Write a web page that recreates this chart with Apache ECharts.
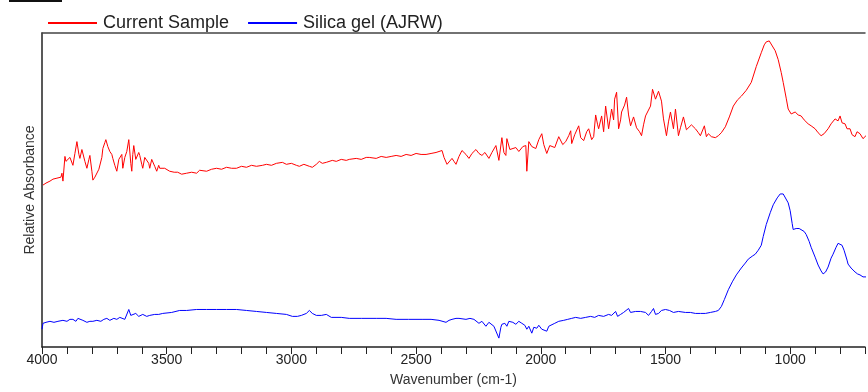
<!DOCTYPE html>
<html>
<head>
<meta charset="utf-8">
<script src="https://cdn.jsdelivr.net/npm/echarts@6/dist/echarts.min.js"></script>
<style>
  html, body { margin: 0; padding: 0; background: #fff; }
  #chart { width: 868px; height: 392px; }
</style>
</head>
<body>
<div id="chart"></div>
<script>
// spectra: wavenumber (cm-1) and relative absorbance
var sampleWn = [3996,3984,3976,3968,3956,3948,3940,3932,3924,3920,3916,3908,3904,3900,3896,3888,3880,3876,3868,3860,
  3852,3848,3840,3836,3828,3820,3812,3808,3800,3796,3788,3780,3772,3768,3760,3756,3748,3744,3736,3728,
  3720,3716,3708,3700,3692,3688,3680,3676,3668,3660,3652,3644,3640,3636,3632,3624,3620,3612,3608,3600,
  3596,3588,3580,3572,3568,3560,3556,3548,3540,3532,3528,3520,3508,3500,3488,3470,3456,3440,3420,3400,
  3380,3368,3340,3320,3300,3280,3260,3240,3220,3200,3180,3160,3140,3116,3100,3080,3060,3036,3020,3000,
  2980,2968,2950,2928,2916,2900,2888,2876,2860,2836,2820,2800,2780,2768,2740,2720,2700,2688,2660,2640,
  2620,2600,2580,2560,2540,2520,2500,2480,2460,2440,2420,2396,2388,2376,2368,2356,2348,2340,2328,2316,
  2300,2288,2276,2260,2248,2236,2224,2208,2196,2180,2168,2156,2148,2140,2136,2124,2116,2100,2088,2072,
  2060,2056,2048,2036,2020,2008,1996,1988,1976,1964,1956,1944,1928,1912,1900,1888,1880,1876,1864,1848,
  1840,1828,1816,1808,1796,1788,1780,1772,1768,1756,1748,1740,1728,1716,1708,1704,1696,1688,1680,1676,
  1664,1656,1648,1640,1628,1616,1604,1596,1588,1580,1568,1560,1552,1540,1528,1516,1508,1496,1488,1480,
  1468,1460,1448,1440,1428,1416,1408,1396,1380,1368,1360,1344,1336,1328,1316,1300,1288,1276,1260,1244,
  1228,1212,1196,1176,1156,1136,1116,1104,1096,1084,1076,1060,1048,1036,1028,1016,1008,996,988,980,
  968,956,944,928,916,900,888,876,864,848,836,820,808,800,792,780,772,760,752,740,
  732,720,708,696];
var sampleAbs = [1.64,1.66,1.65,1.68,1.70,1.69,1.71,1.73,1.72,1.76,1.68,1.93,1.88,1.90,1.86,1.92,1.94,1.84,1.96,2.08,
  1.95,1.91,2.00,1.98,1.88,1.81,1.90,1.94,1.78,1.69,1.72,1.74,1.80,1.81,1.92,2.01,2.07,2.10,2.03,1.98,
  1.95,1.91,1.84,1.78,1.90,1.88,1.95,1.81,1.92,1.98,2.10,1.86,1.78,1.95,2.04,1.90,1.88,1.97,1.94,1.85,
  1.81,1.92,1.94,1.86,1.81,1.90,1.88,1.83,1.78,1.84,1.81,1.80,1.81,1.79,1.78,1.77,1.77,1.75,1.76,1.77,
  1.76,1.79,1.78,1.80,1.81,1.80,1.82,1.81,1.81,1.83,1.82,1.84,1.83,1.84,1.85,1.84,1.86,1.87,1.85,1.86,
  1.84,1.83,1.85,1.83,1.82,1.85,1.88,1.86,1.87,1.89,1.88,1.90,1.89,1.90,1.91,1.90,1.92,1.92,1.91,1.93,
  1.92,1.93,1.94,1.93,1.95,1.94,1.96,1.95,1.95,1.96,1.97,1.99,1.92,1.85,1.87,1.91,1.88,1.85,1.93,1.99,
  1.95,1.91,1.96,2.00,1.96,1.94,1.97,1.91,1.97,2.04,1.89,2.12,1.97,1.94,2.11,2.00,1.98,2.02,1.98,2.03,
  2.04,1.78,2.08,2.03,2.01,2.10,2.16,2.05,1.96,2.04,2.06,2.02,2.13,2.05,2.08,2.14,2.19,2.06,2.15,2.24,
  2.12,2.09,2.18,2.21,2.10,2.13,2.35,2.25,2.21,2.34,2.18,2.44,2.21,2.41,2.30,2.51,2.58,2.21,2.30,2.38,
  2.45,2.53,2.35,2.24,2.33,2.22,2.18,2.14,2.25,2.34,2.40,2.44,2.61,2.51,2.59,2.49,2.31,2.14,2.28,2.38,
  2.21,2.41,2.14,2.22,2.33,2.20,2.18,2.25,2.21,2.17,2.14,2.24,2.13,2.16,2.13,2.12,2.14,2.17,2.23,2.33,
  2.44,2.50,2.54,2.60,2.68,2.84,2.98,3.06,3.09,3.10,3.08,3.00,2.91,2.78,2.68,2.52,2.41,2.36,2.38,2.38,
  2.35,2.34,2.30,2.26,2.24,2.21,2.17,2.14,2.16,2.21,2.26,2.31,2.29,2.34,2.27,2.26,2.21,2.21,2.15,2.13,
  2.18,2.16,2.11,2.14];

var silicaWn = [4000,3996,3984,3968,3952,3936,3916,3900,3888,3876,3864,3856,3848,3836,3820,3808,3796,3780,3764,3752,
  3740,3728,3712,3700,3688,3680,3668,3660,3652,3644,3636,3624,3612,3596,3580,3568,3548,3532,3516,3480,
  3448,3420,3380,3340,3300,3260,3220,3180,3140,3100,3060,3020,2996,2976,2960,2940,2928,2916,2900,2880,
  2860,2840,2800,2768,2720,2660,2620,2580,2530,2476,2440,2408,2380,2368,2356,2340,2328,2300,2284,2268,
  2248,2236,2220,2208,2200,2188,2180,2168,2160,2156,2144,2136,2128,2120,2112,2100,2088,2076,2064,2056,
  2048,2036,2028,2016,2008,1996,1988,1976,1968,1960,1944,1928,1908,1892,1876,1860,1840,1820,1800,1784,
  1768,1748,1728,1716,1700,1692,1680,1668,1660,1648,1640,1632,1620,1600,1580,1568,1556,1548,1540,1528,
  1516,1508,1500,1484,1468,1448,1420,1400,1380,1360,1340,1320,1300,1288,1276,1264,1248,1232,1216,1196,
  1180,1168,1152,1140,1128,1116,1108,1096,1080,1068,1052,1040,1028,1020,1008,1000,992,988,976,964,
  956,944,936,924,916,900,888,876,868,858,848,836,828,816,808,800,792,784,780,772,
  768,756,740,730,720,708,696];
var silicaAbs = [0.18,0.24,0.25,0.26,0.25,0.26,0.27,0.26,0.28,0.28,0.26,0.29,0.27,0.27,0.25,0.26,0.26,0.27,0.26,0.28,
  0.29,0.27,0.29,0.28,0.30,0.32,0.28,0.29,0.38,0.32,0.31,0.34,0.31,0.33,0.31,0.32,0.33,0.33,0.34,0.35,
  0.37,0.37,0.38,0.38,0.38,0.38,0.38,0.37,0.36,0.35,0.34,0.33,0.31,0.31,0.32,0.34,0.37,0.34,0.32,0.32,
  0.33,0.30,0.30,0.29,0.29,0.29,0.29,0.28,0.28,0.28,0.28,0.27,0.25,0.27,0.28,0.29,0.29,0.28,0.29,0.28,
  0.24,0.26,0.21,0.25,0.24,0.21,0.19,0.09,0.20,0.23,0.24,0.21,0.26,0.28,0.25,0.23,0.26,0.24,0.22,0.18,
  0.21,0.14,0.20,0.19,0.22,0.18,0.20,0.16,0.21,0.23,0.24,0.26,0.27,0.28,0.29,0.30,0.29,0.30,0.31,0.30,
  0.32,0.31,0.33,0.32,0.36,0.31,0.33,0.35,0.33,0.39,0.35,0.37,0.36,0.36,0.35,0.32,0.36,0.39,0.33,0.34,
  0.37,0.35,0.38,0.37,0.35,0.36,0.35,0.35,0.34,0.34,0.34,0.35,0.36,0.37,0.41,0.48,0.58,0.66,0.73,0.80,
  0.85,0.89,0.92,0.94,0.98,1.03,1.12,1.24,1.36,1.44,1.51,1.55,1.55,1.53,1.46,1.38,1.25,1.19,1.20,1.20,
  1.20,1.17,1.14,1.07,1.01,0.91,0.83,0.77,0.74,0.76,0.81,0.90,0.94,1.01,1.05,1.07,1.03,0.98,0.96,0.88,
  0.84,0.80,0.76,0.74,0.73,0.71,0.71];

var seriesNames = ['Current Sample', 'Silica gel (AJRW)'];
var seriesColors = ['#ff0000', '#0000ff'];

function pairs(xs, ys) {
  var out = [];
  for (var i = 0; i < xs.length; i++) out.push([xs[i], ys[i]]);
  return out;
}

var chart = echarts.init(document.getElementById('chart'));
var font = 'Liberation Sans, Arial, sans-serif';

var option = {
  animation: false,
  color: seriesColors,
  textStyle: { fontFamily: font },
  graphic: [
    { type: 'rect', left: 9, top: 0, shape: { width: 53, height: 2 }, style: { fill: '#111' } }
  ],
  legend: {
    left: 43,
    top: 9,
    itemWidth: 49,
    itemHeight: 2,
    itemGap: 19,
    icon: 'rect',
    textStyle: { fontSize: 18, color: '#222', fontFamily: font, padding: [0, 0, 0, 1] },
    data: seriesNames
  },
  grid: { left: 42, right: 1, top: 33, bottom: 41, show: false },
  xAxis: [
    {
      type: 'value',
      inverse: true,
      min: 700,
      max: 4000,
      interval: 100,
      position: 'bottom',
      name: 'Wavenumber (cm-1)',
      nameLocation: 'middle',
      nameGap: 26,
      nameTextStyle: { fontSize: 14, color: '#333', fontFamily: font },
      axisLine: { show: true, onZero: false, lineStyle: { color: '#222', width: 1.5 } },
      axisTick: { show: true, inside: false, length: 7, lineStyle: { color: '#222' } },
      axisLabel: {
        fontSize: 14, color: '#222', margin: 6, fontFamily: font,
        formatter: function (v) { return v % 500 === 0 ? String(v) : ''; }
      },
      splitLine: { show: false }
    },
    {
      type: 'value',
      inverse: true,
      min: 700,
      max: 4000,
      position: 'top',
      axisLine: { show: true, onZero: false, lineStyle: { color: '#444', width: 1.5 } },
      axisTick: { show: false },
      axisLabel: { show: false },
      splitLine: { show: false }
    }
  ],
  yAxis: {
    type: 'value',
    min: 0,
    max: 3.18,
    name: 'Relative Absorbance',
    nameLocation: 'middle',
    nameGap: 5,
    nameTextStyle: { fontSize: 14, color: '#333', fontFamily: font },
    axisLine: { show: true, onZero: false, lineStyle: { color: '#222', width: 1.5 } },
    axisTick: { show: false },
    axisLabel: { show: false },
    splitLine: { show: false }
  },
  series: [
    {
      name: seriesNames[0],
      type: 'line',
      data: pairs(sampleWn, sampleAbs),
      showSymbol: false,
      symbol: 'none',
      lineStyle: { width: 1, color: seriesColors[0] }
    },
    {
      name: seriesNames[1],
      type: 'line',
      data: pairs(silicaWn, silicaAbs),
      showSymbol: false,
      symbol: 'none',
      lineStyle: { width: 1, color: seriesColors[1] }
    }
  ]
};

chart.setOption(option);
</script>
</body>
</html>
